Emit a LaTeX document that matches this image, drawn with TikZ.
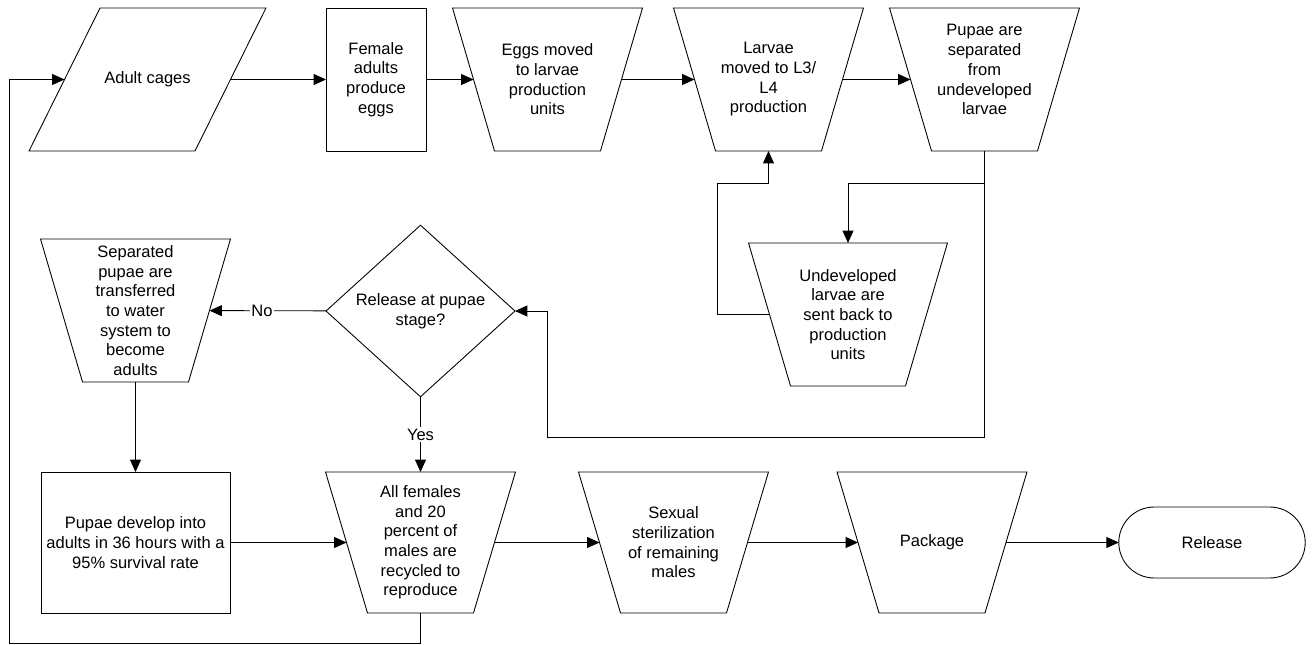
\documentclass[tikz,border=0pt]{standalone}
\usepackage{fontspec}
\setmainfont{Liberation Sans}
\usetikzlibrary{shapes.geometric,shapes.misc,arrows.meta}

\begin{document}
\begin{tikzpicture}[x=0.02cm,y=-0.02cm,
    every node/.style={font=\fontsize{9.4}{11.2}\selectfont, align=center, inner sep=1pt, outer sep=0pt},
    box/.style={draw, line width=0.5pt, minimum height=2.86cm},
    funnel/.style={minimum width=2.96cm, minimum height=2.86cm},
    outline/.style={line width=0.5pt, line join=miter},
    flow/.style={line width=0.5pt, -{Triangle[length=7pt,width=6.2pt]}}]
  \useasboundingbox (0,0) rectangle (1316,645);
  \node[funnel, minimum width=3.32cm] (cages) at (147.5,79.5) {Adult cages};
  \node[box, minimum width=2cm] (female) at (376,79.5) {Female\\adults\\produce\\eggs};
  \node[funnel] (eggs) at (547.5,79.5) {Eggs moved\\to larvae\\production\\units};
  \node[funnel] (larvae) at (768.5,79.5) {Larvae\\moved to L3/\\L4\\production};
  \node[funnel] (pupae) at (984.5,79.5) {Pupae are\\separated\\from\\undeveloped\\larvae\rule[-11.2pt]{0pt}{11.2pt}};
  \node[funnel, minimum width=3.14cm] (undev) at (848,314.5) {Undeveloped\\larvae are\\sent back to\\production\\units};
  \node[funnel] (sep) at (135.5,310.5) {Separated\\pupae are\\transferred\\to water\\system to\\become\\adults};
  \node[draw, line width=0.5pt, diamond, minimum width=3.78cm, minimum height=3.28cm] (decide) at (420.5,311) {Release at pupae\\stage?};
  \node[box, minimum width=3.78cm, minimum height=2.82cm] (develop) at (135.5,542.5) {Pupae develop into\\adults in 36 hours with a\\95\% survival rate};
  \node[funnel, minimum height=2.82cm] (recycle) at (420.5,542.5) {All females\\and 20\\percent of\\males are\\recycled to\\reproduce};
  \node[funnel, minimum height=2.82cm] (steril) at (673.5,542.5) {Sexual\\sterilization\\of remaining\\males};
  \node[funnel, minimum height=2.82cm] (package) at (932,542.5) {Package};
  \node[draw, line width=0.5pt, rounded rectangle, minimum width=3.8cm, minimum height=1.42cm] (release) at (1212,542.5) {Release};

  \draw[outline] ([xshift=0.71cm]cages.north west) -- ([xshift=0.71cm]cages.north east)
    -- ([xshift=-0.71cm]cages.south east) -- ([xshift=-0.71cm]cages.south west) -- cycle;
  \foreach \n in {eggs,larvae,pupae,undev,sep,recycle,steril,package}
    \draw[outline] ([xshift=-0.42cm]\n.north west) -- ([xshift=0.42cm]\n.north east)
      -- ([xshift=-0.42cm]\n.south east) -- ([xshift=0.42cm]\n.south west) -- cycle;

  \coordinate (split) at (984.5,183);
  \coordinate (back) at (717,183);
  \coordinate (loop) at (547,437);
  \coordinate (ret) at (9,643);

  \draw[flow] (cages) -- (female);
  \draw[flow] (female) -- (eggs);
  \draw[flow] (eggs) -- (larvae);
  \draw[flow] (larvae) -- (pupae);
  \draw[flow] (pupae) -- (split) -| (undev);
  \draw[flow] (split) |- (loop) |- (decide);
  \draw[flow] (undev) -| (back) -| (larvae);
  \draw[flow] (decide) -- node[fill=white, pos=0.55] {No} (sep);
  \draw[flow] (decide) -- node[fill=white] {Yes} (recycle);
  \draw[flow] (sep) -- (develop);
  \draw[flow] (develop) -- (recycle);
  \draw[flow] (recycle) -- (steril);
  \draw[flow] (steril) -- (package);
  \draw[flow] (package) -- (release);
  \draw[flow] (recycle) |- (ret) |- (cages);
\end{tikzpicture}
\end{document}
